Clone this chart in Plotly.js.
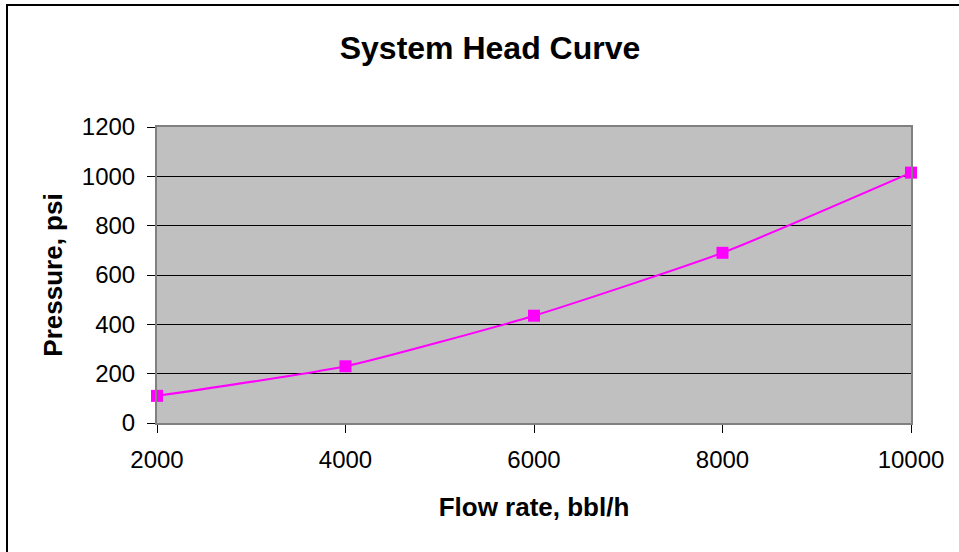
<!DOCTYPE html>
<html>
<head>
<meta charset="utf-8">
<script src="https://cdn.plot.ly/plotly-3.0.1.min.js"></script>
<style>
  html, body { margin: 0; padding: 0; background: #fff; }
  #wrap { position: relative; width: 959px; height: 552px; overflow: hidden; }
  #chart { position: absolute; left: 0; top: 0; width: 959px; height: 552px; }
  #frame { position: absolute; left: 6px; top: 4px; width: 1000px; height: 600px;
           border-left: 2px solid #000; border-top: 2px solid #000; pointer-events: none; }
</style>
</head>
<body>
<div id="wrap">
  <div id="chart"></div>
  <div id="frame"></div>
</div>
<script>
const flowRate = [2000, 4000, 6000, 8000, 10000];
const pressure = [110, 230, 435, 690, 1015];
const xTicks = [2000, 4000, 6000, 8000, 10000];
const yTicks = [0, 200, 400, 600, 800, 1000, 1200];

const trace = {
  x: flowRate,
  y: pressure,
  type: 'scatter',
  mode: 'lines+markers',
  line: { color: '#FF00FF', width: 2, shape: 'spline', smoothing: 0.5 },
  marker: { symbol: 'square', size: 12, color: '#FF00FF' },
  cliponaxis: false,
  hoverinfo: 'x+y'
};

const layout = {
  width: 959,
  height: 552,
  margin: { l: 157, r: 48, t: 127, b: 129 },
  paper_bgcolor: '#FFFFFF',
  plot_bgcolor: '#C0C0C0',
  showlegend: false,
  font: { family: 'Liberation Sans, Arial, sans-serif', color: '#000' },
  title: {
    text: '<b>System Head Curve</b>',
    font: { size: 32, family: 'Liberation Sans, Arial, sans-serif', color: '#000' },
    xref: 'container', x: 490 / 959, xanchor: 'center',
    yref: 'container', y: 1 - 48 / 552, yanchor: 'middle'
  },
  xaxis: {
    range: [2000, 10000],
    tickvals: xTicks,
    ticktext: xTicks.map(String),
    ticks: 'outside', ticklen: 8, tickcolor: '#000', tickwidth: 1,
    tickfont: { size: 24 },
    ticklabelstandoff: 6,
    showgrid: false,
    zeroline: false,
    showline: true, linecolor: '#808080', linewidth: 2, mirror: true,
    title: { text: '<b>Flow rate, bbl/h</b>', font: { size: 26 }, standoff: 26 }
  },
  yaxis: {
    range: [0, 1200],
    tickvals: yTicks,
    ticktext: yTicks.map(String),
    ticks: 'outside', ticklen: 8, tickcolor: '#000', tickwidth: 1,
    tickfont: { size: 24 },
    ticklabelstandoff: 7,
    showgrid: true, gridcolor: '#000000', gridwidth: 1,
    zeroline: false,
    showline: true, linecolor: '#808080', linewidth: 2, mirror: true,
    title: { text: '<b>Pressure, psi</b>', font: { size: 26 }, standoff: 12 }
  }
};

Plotly.newPlot('chart', [trace], layout, { staticPlot: true });
</script>
</body>
</html>
